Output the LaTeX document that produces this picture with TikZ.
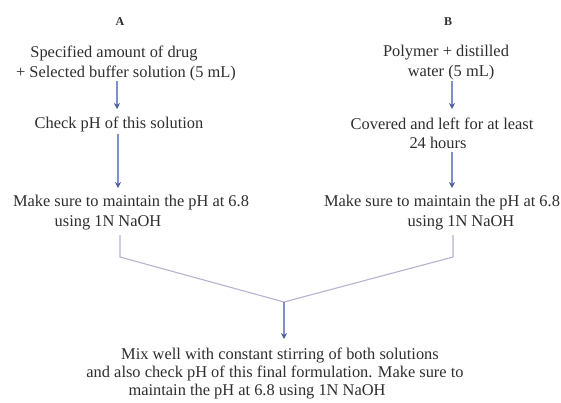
\documentclass[tikz,border=0pt]{standalone}
\usepackage{fontspec}
\setmainfont{Liberation Serif}
\usetikzlibrary{arrows.meta,calc}
\definecolor{txt}{HTML}{2E2E2E}
\definecolor{arr}{HTML}{7F8FC8}
\definecolor{arrhead}{HTML}{4A5FA0}
\definecolor{merge}{HTML}{B4B4D2}
\tikzset{
  lbl/.style={text=txt,font=\fontsize{16.4}{20}\selectfont,inner sep=0pt,anchor=center},
  hdr/.style={text=txt,font=\fontsize{12}{14}\selectfont\bfseries,inner sep=0pt},
  flow/.style={draw=arr,line width=1.1pt,-{Stealth[length=6pt,width=6pt,color=arrhead]}},
  mline/.style={draw=merge,line width=1.1pt}
}
\begin{document}
\begin{tikzpicture}[x=1pt,y=-1pt]
\useasboundingbox[fill=white] (0,0) rectangle (561,402);
% headers
\node[hdr] (ha) at (120,22) {A};
\node[hdr] (hb) at (448,22) {B};
% column A
\node[lbl] (a1a) at (114,53) {Specified amount of drug};
\node[lbl] (a1b) at (126,73) {+ Selected buffer solution (5 mL)};
\node[lbl] (a2) at (119,124) {Check pH of this solution};
\node[lbl] (a3a) at (131,203) {Make sure to maintain the pH at 6.8};
\node[lbl] (a3b) at (108,223) {using 1N NaOH};
% column B
\node[lbl] (b1a) at (446,53) {Polymer + distilled};
\node[lbl] (b1b) at (451,73) {water (5 mL)};
\node[lbl] (b2a) at (442,124) {Covered and left for at least};
\node[lbl] (b2b) at (438,143) {24 hours};
\node[lbl] (b3a) at (442,203) {Make sure to maintain the pH at 6.8};
\node[lbl] (b3b) at (461,223) {using 1N NaOH};
% final
\node[lbl] (f1) at (280,355) {Mix well with constant stirring of both solutions};
\node[lbl] (f2) at (275,373) {and also check pH of this final formulation. Make sure to};
\node[lbl] (f3) at (257,392) {maintain the pH at 6.8 using 1N NaOH};
% coordinates
\coordinate (a1e) at (117,81);
\coordinate (a2s) at (117,109);
\coordinate (a2e) at (118,134);
\coordinate (a3s) at (118,188);
\coordinate (b1e) at (452,81);
\coordinate (b2s) at (452,109);
\coordinate (b2e) at (452,152);
\coordinate (b3s) at (452,188);
\coordinate (la0) at (120,235);
\coordinate (la) at (120,257);
\coordinate (ra0) at (453,235);
\coordinate (ra) at (453,257);
\coordinate (m) at (284,302);
\coordinate (fs) at (284,339);
% connectors
\draw[flow] (a1e) -- (a2s);
\draw[flow] (a2e) -- (a3s);
\draw[flow] (b1e) -- (b2s);
\draw[flow] (b2e) -- (b3s);
\draw[mline] (la0) -- (la) -- (m);
\draw[mline] (ra0) -- (ra) -- (m);
\draw[flow] (m) -- (fs);
\end{tikzpicture}
\end{document}
